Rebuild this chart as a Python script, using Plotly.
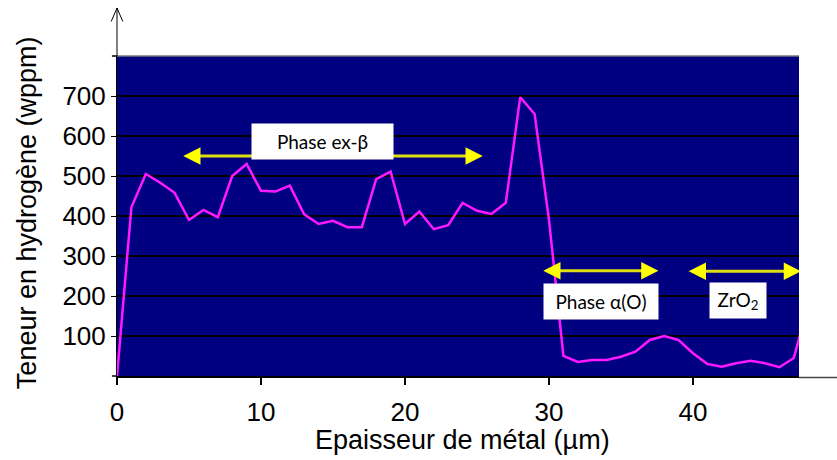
import plotly.graph_objects as go

# Data
epaisseur = list(range(0, 49))
hydrogene = [0, 422, 505, 483, 458, 390, 415, 397, 500, 530,
             463, 461, 476, 404, 380, 388, 372, 372, 492, 511,
             380, 411, 367, 377, 433, 413, 405, 433, 697, 655,
             390, 50, 35, 40, 40, 48, 61, 90, 100, 90,
             57, 30, 23, 32, 38, 32, 22, 45, 180]

y_ticks = [100, 200, 300, 400, 500, 600, 700]
x_ticks = [0, 10, 20, 30, 40]

# Phase zones (arrow start, arrow end, height) and labels
zone_x0 = [4.6, 29.6, 39.7]
zone_x1 = [25.4, 37.6, 47.5]
zone_y = [550, 263, 262]
zone_labels = ["Phase ex-β", "Phase α(O)", "ZrO<sub>2</sub>"]
label_x = [14.26, 33.6, 43.1]
label_y = [586, 186, 189]
label_w = [141, 114, 56]

HEAD_L = 1.2   # arrow head length (µm units)
HEAD_H = 22    # arrow head half height (wppm units)

fig = go.Figure()
fig.add_trace(go.Scatter(x=epaisseur, y=hydrogene, mode="lines",
                         line=dict(color="#ff19ff", width=2.5), hoverinfo="skip"))

annotations = []
shapes = []
for x0, x1, y, lab, lx, ly, w in zip(zone_x0, zone_x1, zone_y, zone_labels,
                                     label_x, label_y, label_w):
    shapes.append(dict(type="line", xref="x", yref="y", x0=x0 + HEAD_L * 0.8,
                       x1=x1 - HEAD_L * 0.8, y0=y, y1=y,
                       line=dict(color="#dede10", width=3)))
    shapes.append(dict(type="path", xref="x", yref="y",
                       path=f"M {x0},{y} L {x0 + HEAD_L},{y + HEAD_H} L {x0 + HEAD_L},{y - HEAD_H} Z",
                       fillcolor="#ffff00", line=dict(width=0)))
    shapes.append(dict(type="path", xref="x", yref="y",
                       path=f"M {x1},{y} L {x1 - HEAD_L},{y + HEAD_H} L {x1 - HEAD_L},{y - HEAD_H} Z",
                       fillcolor="#ffff00", line=dict(width=0)))
    annotations.append(dict(
        x=lx, y=ly, xref="x", yref="y", text=lab, showarrow=False,
        bgcolor="white", borderpad=0, width=w, height=35,
        font=dict(family="Lato", size=19, color="black")))

annotations.append(dict(
    x=-0.132, y=0.512, xref="paper", yref="paper", text="Teneur en hydrogène (wppm)",
    textangle=-90, showarrow=False, xanchor="center", yanchor="middle",
    font=dict(family="Liberation Sans", size=27, color="black")))
annotations.append(dict(
    x=0.506, y=-0.2, xref="paper", yref="paper", text="Epaisseur de métal (µm)",
    showarrow=False, xanchor="center", yanchor="middle",
    font=dict(family="Liberation Sans", size=27, color="black")))

shapes += [
    # top border of the plot area
    dict(type="line", xref="paper", yref="paper", x0=0, x1=1, y0=1, y1=1,
         line=dict(color="#777777", width=1.5)),
    # unlabeled ticks at 0 and 800
    dict(type="line", xref="paper", yref="paper", x0=-0.0075, x1=0, y0=1, y1=1,
         line=dict(color="black", width=1.5)),
    dict(type="line", xref="paper", yref="paper", x0=-0.0075, x1=0, y0=0, y1=0,
         line=dict(color="black", width=1.5)),
    # y axis extension upward
    dict(type="line", xref="paper", yref="paper", x0=0, x1=0, y0=1, y1=1.15,
         line=dict(color="black", width=1)),
    dict(type="path", xref="paper", yref="paper",
         path="M -0.0085,1.108 L 0,1.15 L 0.0085,1.108",
         line=dict(color="black", width=1)),
    # x axis extension to the right
    dict(type="line", xref="paper", yref="paper", x0=1, x1=1.056, y0=-0.005, y1=-0.005,
         line=dict(color="#444444", width=1.5)),
]

fig.update_layout(
    width=837, height=460,
    margin=dict(l=117, r=38, t=56, b=84),
    paper_bgcolor="white", plot_bgcolor="#000080",
    showlegend=False,
    annotations=annotations, shapes=shapes,
    xaxis=dict(range=[0, 47.36], tickvals=x_ticks, showgrid=False, zeroline=False,
               showline=True, linecolor="black", linewidth=1.5,
               ticks="outside", ticklen=7, tickcolor="black", tickwidth=1.5,
               ticklabelstandoff=5,
               tickfont=dict(family="Liberation Sans", size=26, color="black")),
    yaxis=dict(range=[0, 800], tickvals=y_ticks,
               showgrid=True, gridcolor="black", gridwidth=2, zeroline=False,
               showline=True, linecolor="black", linewidth=1,
               ticks="outside", ticklen=5, tickcolor="black",
               tickfont=dict(family="Liberation Sans", size=26, color="black")),
)

fig.write_html("out.html")
